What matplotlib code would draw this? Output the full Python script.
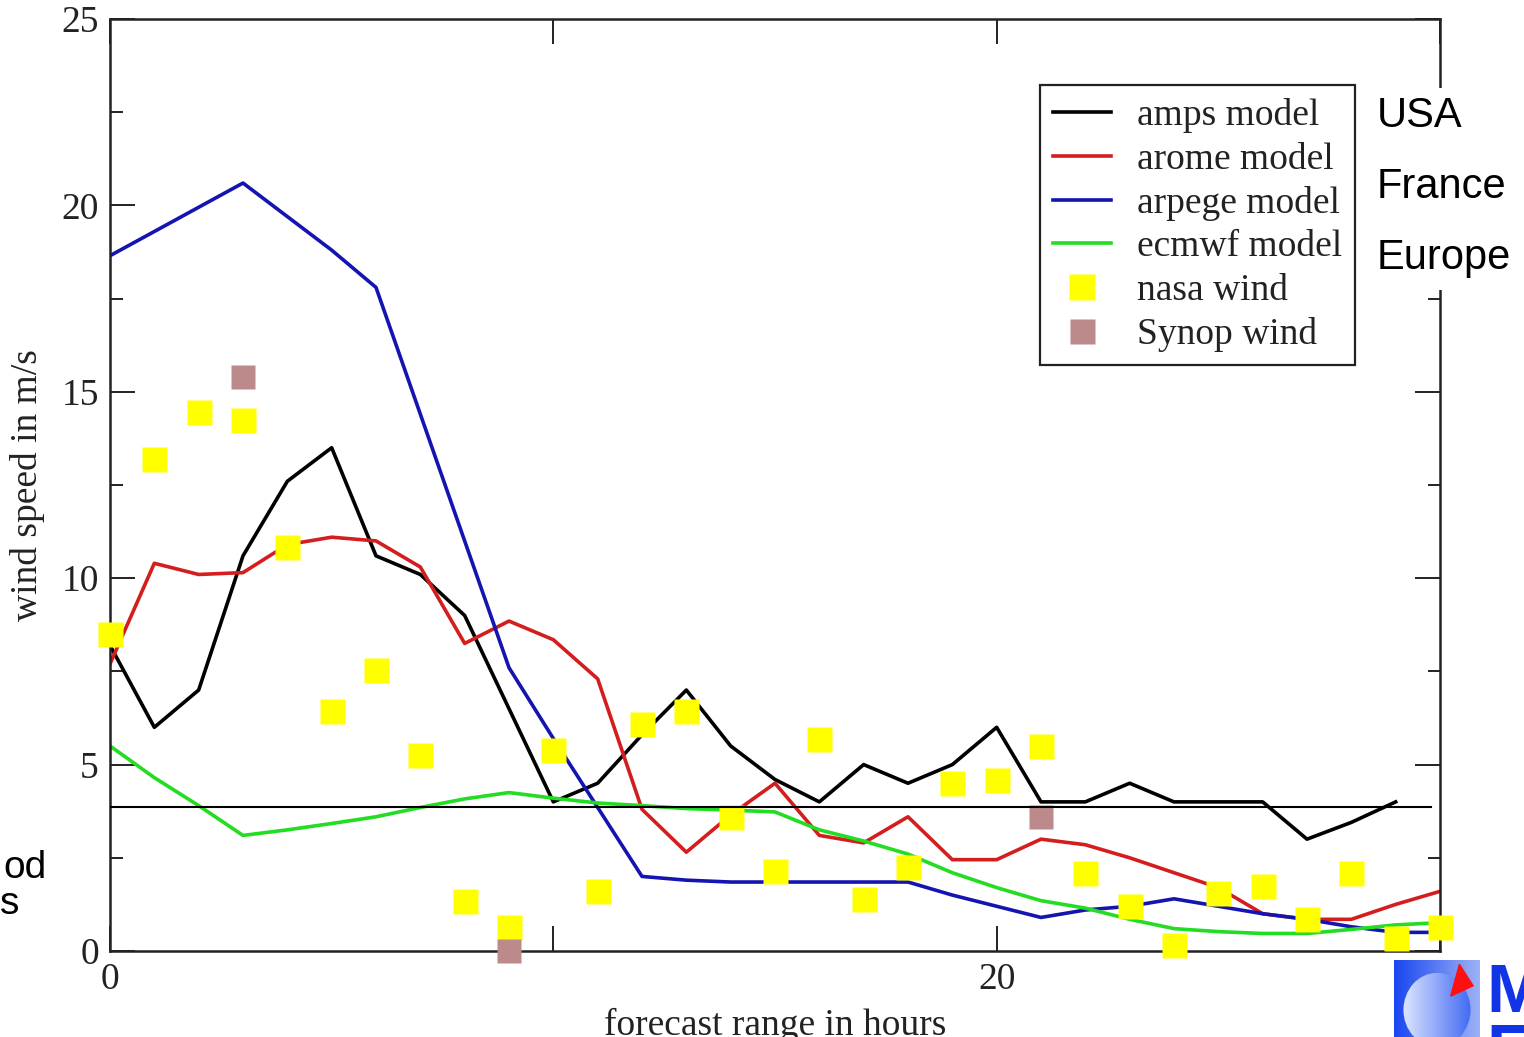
import numpy as np
import matplotlib
matplotlib.use("Agg")
import matplotlib.pyplot as plt
from matplotlib.lines import Line2D
from matplotlib.patches import Ellipse, Polygon, Rectangle

#Data - - - - - - - - - - - - - - - - - - - - - - - - -
hours = list(range(31))

amps = [8.2, 6.0, 7.0, 10.6, 12.6, 13.5, 10.6, 10.1, 9.0, 6.5, 4.0, 4.5, 5.8, 7.0, 5.5,
        4.6, 4.0, 5.0, 4.5, 5.0, 6.0, 4.0, 4.0, 4.5, 4.0, 4.0, 4.0, 3.0, 3.45, 4.0]
arome = [7.7, 10.4, 10.1, 10.15, 10.9, 11.1, 11.0, 10.3, 8.25, 8.85, 8.35, 7.3, 3.8, 2.65, 3.65,
         4.5, 3.1, 2.9, 3.6, 2.45, 2.45, 3.0, 2.85, 2.5, 2.1, 1.7, 1.0, 0.85, 0.85, 1.25, 1.6]
arpege = [18.65, 19.3, 19.95, 20.6, 19.7, 18.8, 17.8, 14.4, 11.0, 7.6, 5.7, 3.85, 2.0, 1.9, 1.85,
          1.85, 1.85, 1.85, 1.85, 1.5, 1.2, 0.9, 1.1, 1.2, 1.4, 1.2, 1.0, 0.85, 0.65, 0.5, 0.5]
ecmwf = [5.5, 4.65, 3.9, 3.1, 3.25, 3.42, 3.6, 3.85, 4.08, 4.25, 4.1, 3.97, 3.9, 3.82, 3.78,
         3.73, 3.25, 2.95, 2.6, 2.1, 1.7, 1.35, 1.15, 0.85, 0.6, 0.52, 0.47, 0.47, 0.58, 0.7, 0.76]
nasa = [8.5, 13.2, 14.45, 14.25, 10.85, 6.45, 7.55, 5.25, 1.35, 0.65, 5.4, 1.6, 6.1, 6.45, 3.6,
        2.15, 5.7, 1.4, 2.25, 4.5, 4.6, 5.5, 2.1, 1.2, 0.15, 1.55, 1.75, 0.85, 2.1, 0.35, 0.65]
synop_hours = [3, 9, 21]
synop = [15.4, 0.0, 3.6]

ref_level = 3.86
ref_end = 29.8

labels = ["amps model", "arome model", "arpege model", "ecmwf model", "nasa wind", "Synop wind"]
regions = ["USA", "France", "Europe"]

#Colours
c_amps = "black"
c_arome = "#d41e1e"
c_arpege = "#1414b0"
c_ecmwf = "#22dd22"
c_nasa = "#ffff00"
c_synop = "#bc8a8a"

serif = "Liberation Serif"
sans = "Liberation Sans"

#Plot - - - - - - - - - - - - - - - - - - - - - - - - -
fig = plt.figure(figsize=(15.24, 10.37), dpi=100)
ax = fig.add_axes([110/1524, 1 - 951/1037, 1330/1524, 932/1037])

lw = 2.6
ax.plot(hours[:len(amps)], amps, color=c_amps, lw=lw)
ax.plot(hours, arome, color=c_arome, lw=lw)
ax.plot(hours, arpege, color=c_arpege, lw=lw)
ax.plot(hours, ecmwf, color=c_ecmwf, lw=lw)

ax.plot(hours, nasa, ls="none", marker="s", ms=18, color=c_nasa, mec="none", clip_on=False, zorder=4)
ax.plot(synop_hours, synop, ls="none", marker="s", ms=17, color=c_synop, mec="none", clip_on=False, zorder=4)

ax.plot([0, ref_end], [ref_level, ref_level], color="black", lw=1.5, zorder=5)

ax.set_xlim(0, 30)
ax.set_ylim(0, 25)
ax.set_xticks([0, 10, 20, 30])
ax.set_xticklabels(["0", "", "20", ""])
ax.set_yticks([0, 5, 10, 15, 20, 25])
ax.set_yticks(np.arange(2.5, 25, 5), minor=True)

ax.tick_params(which="both", direction="in", top=True, right=True, width=1.4, color="#222222",
               labelsize=27, pad=8)
ax.tick_params(which="major", length=18)
ax.tick_params(which="minor", length=9)
for lab in ax.get_xticklabels() + ax.get_yticklabels():
    lab.set_fontfamily(serif)
    lab.set_color("#222222")
for sp in ax.spines.values():
    sp.set_linewidth(1.8)
    sp.set_color("#222222")

ax.set_xlabel("forecast range in hours", fontsize=27, family=serif, color="#222222", labelpad=8)
ax.set_ylabel("wind speed in m/s", fontsize=27, family=serif, color="#222222", labelpad=12)

#Legend
handles = [Line2D([], [], color=c_amps, lw=lw),
           Line2D([], [], color=c_arome, lw=lw),
           Line2D([], [], color=c_arpege, lw=lw),
           Line2D([], [], color=c_ecmwf, lw=lw),
           Line2D([], [], ls="none", marker="s", ms=19, color=c_nasa, mec="none"),
           Line2D([], [], ls="none", marker="s", ms=18, color=c_synop, mec="none")]
leg = ax.legend(handles, labels, loc="upper left", bbox_to_anchor=(0.699, 0.929), borderaxespad=0,
                prop={"family": serif, "size": 27}, frameon=True, fancybox=False, framealpha=1,
                edgecolor="#222222", handlelength=1.55, handletextpad=0.7, borderpad=0.35,
                labelspacing=0.24)
leg.get_frame().set_linewidth(1.6)
for t in leg.get_texts():
    t.set_color("#222222")

#White block that hides the right spine behind the region names
fig.patches.append(Rectangle((1364/1524, 1 - 290/1037), 160/1524, 202/1037, transform=fig.transFigure,
                             facecolor="white", edgecolor="none", zorder=1))

#Region names on the right
for k in range(len(regions)):
    fig.text(1377/1524, 1 - (127 + 71*k)/1037, regions[k], fontsize=30, family=sans,
             ha="left", va="baseline", zorder=3)

#Cut off slide text on the left
fig.text(47/1524, 1 - 878/1037, "od", fontsize=28, family=sans, ha="right", va="baseline")
fig.text(19/1524, 1 - 914/1037, "s", fontsize=28, family=sans, ha="right", va="baseline")

#Logo in the corner
lax = fig.add_axes([1394/1524, 1 - 1046/1037, 86/1524, 86/1037])
lax.set_xlim(0, 1)
lax.set_ylim(0, 1)
lax.axis("off")
grad = np.linspace(0, 1, 64).reshape(1, -1)
lax.imshow(grad, cmap=matplotlib.colors.LinearSegmentedColormap.from_list("bg", ["#1a46f0", "#9cb2f6"]),
           extent=[0, 1, 0, 1], aspect="auto")
circ = Ellipse((0.5, 0.42), 0.78, 0.86, transform=lax.transData, facecolor="none", edgecolor="none")
lax.add_patch(circ)
im = lax.imshow(grad, cmap=matplotlib.colors.LinearSegmentedColormap.from_list("fg", ["#f0f4fe", "#2f5cf2"]),
                extent=[0, 1, 0, 1], aspect="auto")
im.set_clip_path(circ)
lax.add_patch(Polygon([[0.66, 0.58], [0.76, 0.95], [0.92, 0.7]], closed=True, color="#ff1010"))

fig.text(1486/1524, 1 - 1012/1037, "M", fontsize=50, family=sans, weight="bold", color="#1034e6",
         ha="left", va="baseline")
fig.text(1486/1524, 1 - 1072/1037, "F", fontsize=50, family=sans, weight="bold", color="#1034e6",
         ha="left", va="baseline")

plt.savefig("out.png", dpi=100)
